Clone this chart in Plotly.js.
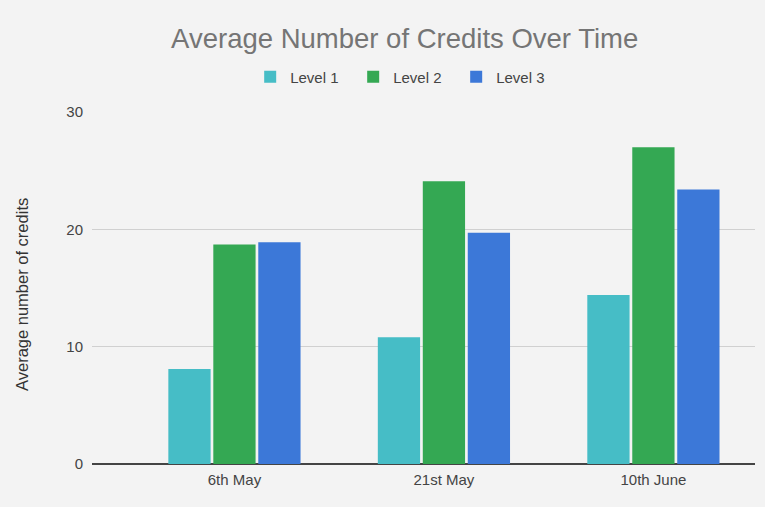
<!DOCTYPE html>
<html>
<head>
<meta charset="utf-8">
<script src="https://cdn.plot.ly/plotly-3.0.1.min.js"></script>
<style>html,body{margin:0;padding:0;background:#f3f3f3;}#chart{width:765px;height:507px;}</style>
</head>
<body>
<div id="chart"></div>
<script>
const categories = ["6th May", "21st May", "10th June"];
const level1 = [8.1, 10.8, 14.4];
const level2 = [18.7, 24.1, 27.0];
const level3 = [18.9, 19.7, 23.4];
const seriesNames = ["Level 1", "Level 2", "Level 3"];
const colors = ["#46bdc6", "#34a853", "#3c78d8"];
const yTitle = "Average number of credits";

const font = "Liberation Sans, Arial, sans-serif";
const data = [level1, level2, level3].map((vals, i) => ({
  type: "bar",
  x: categories,
  y: vals,
  name: seriesNames[i],
  marker: {color: colors[i], line: {width: 0}},
  hoverinfo: "skip"
}));

const layout = {
  width: 765, height: 507,
  paper_bgcolor: "#f3f3f3", plot_bgcolor: "#f3f3f3",
  font: {family: font, size: 15, color: "#444444"},
  margin: {l: 92, r: 10, t: 112, b: 43, pad: 0},
  title: {text: "Average Number of Credits Over Time", font: {family: font, size: 27.5, color: "#757575"},
          x: 0.529, xref: "container", xanchor: "center", y: 1 - 38/507, yref: "container", yanchor: "middle"},
  showlegend: true,
  legend: {orientation: "h", xref: "container", yref: "container", x: 0.529, y: 1 - 77/507,
           xanchor: "center", yanchor: "middle", font: {family: font, size: 15, color: "#444444"},
           bgcolor: "rgba(0,0,0,0)", itemwidth: 30, tracegroupgap: 0,
           entrywidth: 58, entrywidthmode: "pixels"},
  barmode: "group", bargap: 0.356, bargroupgap: 0.06,
  xaxis: {type: "category", range: [-0.68, 2.485], showgrid: false, zeroline: false,
          showline: false, ticks: "outside", ticklen: 2, tickcolor: "rgba(0,0,0,0)",
          tickfont: {family: font, size: 15, color: "#444444"}, fixedrange: true},
  yaxis: {range: [0, 30], tickvals: [0, 10, 20, 30], showgrid: true, gridcolor: "#d0d0d0", gridwidth: 1,
          zeroline: true, zerolinecolor: "#444444", zerolinewidth: 2,
          ticks: "outside", ticklen: 5, tickcolor: "rgba(0,0,0,0)",
          tickfont: {family: font, size: 15, color: "#444444"},
          fixedrange: true},
  annotations: [{text: yTitle, textangle: -90, xref: "paper", yref: "paper",
                 x: (22 - 92) / 663, y: (464 - 295) / 352, xanchor: "center", yanchor: "middle",
                 showarrow: false, font: {family: font, size: 16.5, color: "#333333"}}]
};

Plotly.newPlot("chart", data, layout, {displayModeBar: false, staticPlot: true});
</script>
</body>
</html>
